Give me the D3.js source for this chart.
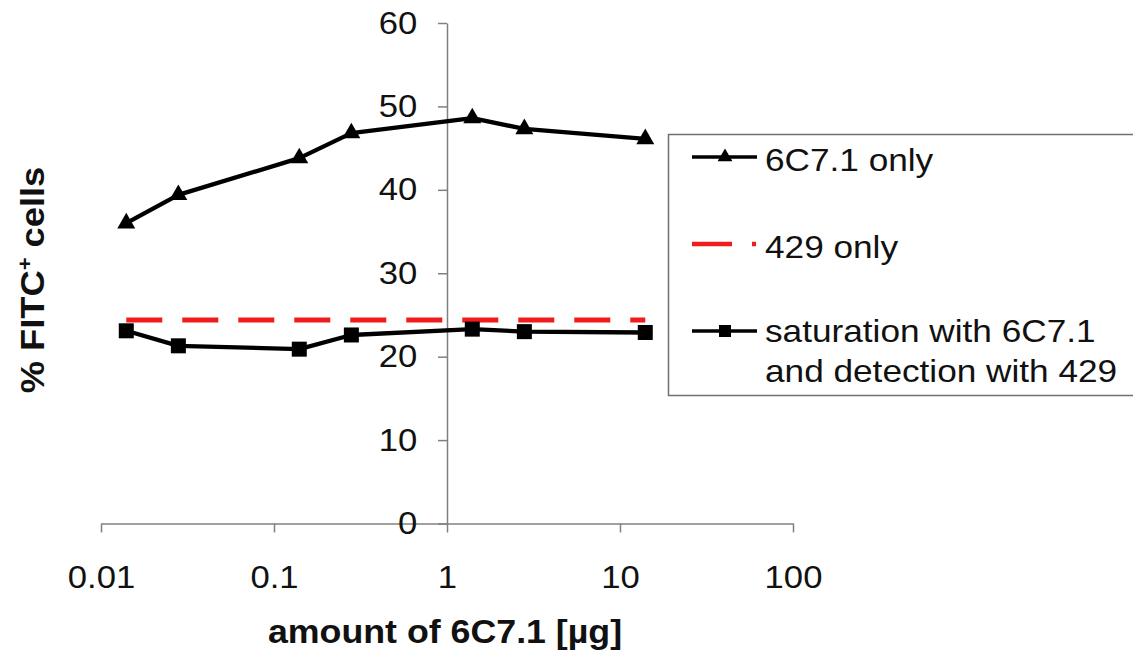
<!DOCTYPE html>
<html lang="en">
<head>
<meta charset="utf-8">
<title>FITC+ cells vs amount of 6C7.1</title>
<script src="https://cdn.jsdelivr.net/npm/d3@7"></script>
<style>
	html, body { margin: 0; padding: 0; background: #fff; }
	svg { display: block; font-family: "Liberation Sans", Arial, Helvetica, sans-serif; }
</style>
</head>
<body>
<div id="chart"></div>
<script>
	// data
	const amounts = [0.014, 0.028, 0.14, 0.28, 1.4, 2.8, 14];
	const only6C71 = [36.0, 39.4, 43.8, 46.8, 48.6, 47.3, 46.1];
	const only429 = [24.4, 24.4, 24.4, 24.4, 24.4, 24.4, 24.4];
	const saturation = [23.1, 21.3, 20.9, 22.6, 23.3, 23.0, 22.9];

	const xTicks = [0.01, 0.1, 1, 10, 100];
	const xTickLabels = ["0.01", "0.1", "1", "10", "100"];
	const yTicks = [0, 10, 20, 30, 40, 50, 60];

	const seriesNames = ["6C7.1 only", "429 only", "saturation with 6C7.1", "and detection with 429"];

	const width = 1133, height = 656;
	const stretch = 1.1; // text in the figure is a bit wider than Arial

	const svg = d3.select("#chart")
		.append("svg")
		.attr("width", width)
		.attr("height", height);

	// scales
	const x = d3.scaleLog()
		.domain([0.01, 100])
		.range([101, 793]);

	const y = d3.scaleLinear()
		.domain([0, 60])
		.range([523.5, 23]);

	// X axis (at y = 0)
	const xAxis = svg.append("g")
		.attr("transform", "translate(0," + y(0) + ")")
		.call(d3.axisBottom(x)
			.tickValues(xTicks)
			.tickFormat((d, i) => xTickLabels[i])
			.tickSize(9)
			.tickSizeOuter(0)
			.tickPadding(33));

	// Y axis (crosses at x = 1)
	const yAxis = svg.append("g")
		.attr("transform", "translate(" + x(1) + ",0)")
		.call(d3.axisLeft(y)
			.tickValues(yTicks)
			.tickSize(9)
			.tickSizeOuter(0)
			.tickPadding(18));

	[xAxis, yAxis].forEach(function (g) {
		g.select(".domain").attr("stroke", "#808080").attr("stroke-width", 1.5);
		g.selectAll(".tick line").attr("stroke", "#808080").attr("stroke-width", 1.5);
		g.selectAll(".tick text")
			.attr("fill", "#111")
			.attr("transform", "scale(" + stretch + ",1)")
			.style("font-size", "31.5px")
			.style("font-family", "'Liberation Sans', Arial, sans-serif");
	});

	// lines
	const line = d3.line()
		.x(d => x(d[0]))
		.y(d => y(d[1]));

	const data429 = amounts.map((a, i) => [a, only429[i]]);
	const data6C71 = amounts.map((a, i) => [a, only6C71[i]]);
	const dataSat = amounts.map((a, i) => [a, saturation[i]]);

	svg.append("path")
		.datum(data429)
		.attr("fill", "none")
		.attr("stroke", "#ee1c1c")
		.attr("stroke-width", 5)
		.attr("stroke-dasharray", "36,20")
		.attr("d", line);

	svg.append("path")
		.datum(data6C71)
		.attr("fill", "none")
		.attr("stroke", "#000")
		.attr("stroke-width", 4.3)
		.attr("stroke-linejoin", "round")
		.attr("d", line);

	svg.append("path")
		.datum(dataSat)
		.attr("fill", "none")
		.attr("stroke", "#000")
		.attr("stroke-width", 4.3)
		.attr("stroke-linejoin", "round")
		.attr("d", line);

	// markers
	svg.append("g")
		.selectAll("path")
		.data(data6C71)
		.enter()
		.append("path")
		.attr("transform", d => "translate(" + x(d[0]) + "," + y(d[1]) + ")")
		.attr("d", d3.symbol().type(d3.symbolTriangle).size(140))
		.attr("fill", "#000");

	svg.append("g")
		.selectAll("rect")
		.data(dataSat)
		.enter()
		.append("rect")
		.attr("x", d => x(d[0]) - 7.5)
		.attr("y", d => y(d[1]) - 7.5)
		.attr("width", 15)
		.attr("height", 15)
		.attr("fill", "#000");

	// axis titles
	svg.append("text")
		.attr("transform", "translate(445,643) scale(" + stretch + ",1)")
		.attr("text-anchor", "middle")
		.style("font-size", "32.5px")
		.style("font-weight", "bold")
		.attr("fill", "#111")
		.text("amount of 6C7.1 [µg]");

	const yTitle = svg.append("text")
		.attr("transform", "translate(44,280) rotate(-90) scale(" + stretch + ",1)")
		.attr("text-anchor", "middle")
		.style("font-size", "33px")
		.style("font-weight", "bold")
		.attr("fill", "#111");
	yTitle.append("tspan").text("% FITC");
	yTitle.append("tspan").attr("dy", -12).style("font-size", "20px").text("+");
	yTitle.append("tspan").attr("dy", 12).text(" cells");

	// legend
	const legend = svg.append("g");
	legend.append("rect")
		.attr("x", 668.5)
		.attr("y", 134.5)
		.attr("width", 480)
		.attr("height", 261)
		.attr("fill", "#fff")
		.attr("stroke", "#707070")
		.attr("stroke-width", 1.5);

	// 6C7.1 only
	legend.append("line")
		.attr("x1", 692).attr("x2", 757)
		.attr("y1", 157).attr("y2", 157)
		.attr("stroke", "#000").attr("stroke-width", 3.5);
	legend.append("path")
		.attr("transform", "translate(725,157)")
		.attr("d", d3.symbol().type(d3.symbolTriangle).size(95))
		.attr("fill", "#000");

	// 429 only
	legend.append("line")
		.attr("x1", 692).attr("x2", 756)
		.attr("y1", 244).attr("y2", 244)
		.attr("stroke", "#ee1c1c").attr("stroke-width", 4.5)
		.attr("stroke-dasharray", "40,20");

	// saturation
	legend.append("line")
		.attr("x1", 692).attr("x2", 757)
		.attr("y1", 331).attr("y2", 331)
		.attr("stroke", "#000").attr("stroke-width", 3.5);
	legend.append("rect")
		.attr("x", 719).attr("y", 325)
		.attr("width", 12).attr("height", 12)
		.attr("fill", "#000");

	const legendText = [
		{ t: seriesNames[0], yb: 171 },
		{ t: seriesNames[1], yb: 258 },
		{ t: seriesNames[2], yb: 342 },
		{ t: seriesNames[3], yb: 382 }
	];
	legend.selectAll("text.lbl")
		.data(legendText)
		.enter()
		.append("text")
		.attr("class", "lbl")
		.attr("transform", d => "translate(765," + d.yb + ") scale(" + stretch + ",1)")
		.style("font-size", "32px")
		.attr("fill", "#111")
		.text(d => d.t);
</script>
</body>
</html>
